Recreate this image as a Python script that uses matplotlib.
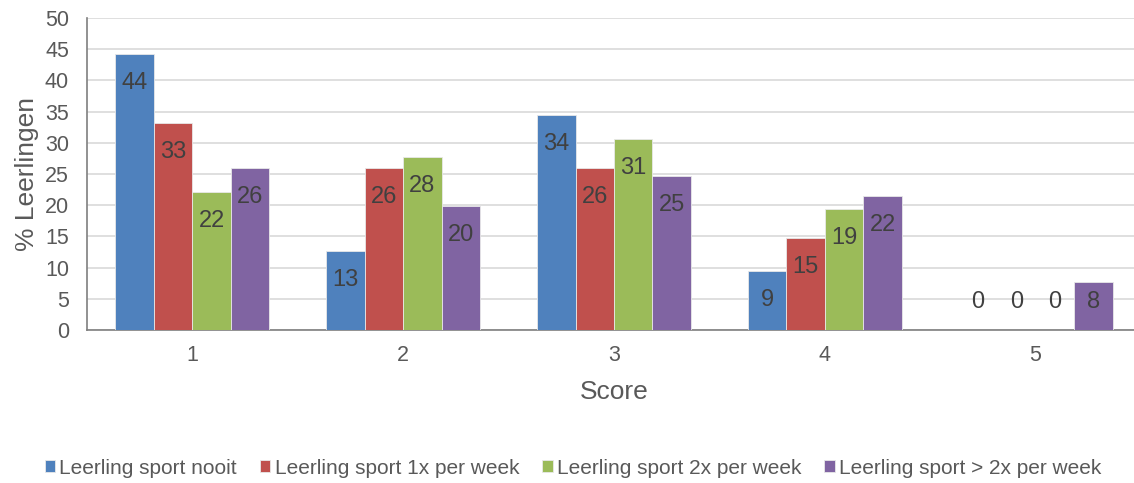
import matplotlib.pyplot as plt
import numpy as np

plt.rcParams["font.family"] = ["Liberation Sans", "DejaVu Sans"]

scores = ["1", "2", "3", "4", "5"]
series_names = [
    "Leerling sport nooit",
    "Leerling sport 1x per week",
    "Leerling sport 2x per week",
    "Leerling sport > 2x per week",
]
nooit = [44.2, 12.6, 34.5, 9.4, 0.0]
een_x = [33.2, 25.9, 25.9, 14.8, 0.0]
twee_x = [22.1, 27.8, 30.6, 19.4, 0.0]
meer_x = [26.0, 19.9, 24.7, 21.5, 7.7]

colors = ["#4F81BD", "#C0504D", "#9BBB59", "#8064A2"]
text_grey = "#404040"
tick_grey = "#595959"


def main() -> None:
    fig = plt.figure(figsize=(11.34, 4.83), dpi=100)
    # axes spans x 87..1141 px (right side runs off the canvas), y 18..330 px
    ax = fig.add_axes([87 / 1134, (483 - 330) / 483, 1054 / 1134, 312 / 483])

    x = np.arange(len(scores))
    width = 0.1825
    all_series = [nooit, een_x, twee_x, meer_x]
    for i, (vals, name, col) in enumerate(zip(all_series, series_names, colors)):
        pos = x + (i - 1.5) * width
        ax.bar(pos, vals, width, color=col, edgecolor="#E8E8E8",
               linewidth=0.6, label=name, zorder=3)
        for px, v in zip(pos, vals):
            ly = max(v - 4.65, 4.5)
            ax.text(px, ly, f"{v:.0f}", ha="center", va="center",
                    fontsize=17, color=text_grey, zorder=4)

    ax.set_xlim(-0.5, len(scores) - 0.5)
    ax.set_ylim(0, 50)
    ax.set_yticks(range(0, 51, 5))
    ax.set_xticks(x)
    ax.set_xticklabels(scores)
    ax.tick_params(axis="both", length=0, labelsize=15.5, colors=tick_grey)
    ax.tick_params(axis="y", pad=13)
    ax.tick_params(axis="x", pad=11)
    ax.grid(axis="y", color="#D9D9D9", linewidth=1.2, zorder=0)
    for side in ["top", "right"]:
        ax.spines[side].set_visible(False)
    for side in ["left", "bottom"]:
        ax.spines[side].set_color("#7F7F7F")
        ax.spines[side].set_linewidth(1.2)

    ax.set_xlabel("Score", fontsize=19, color=tick_grey, labelpad=10)
    ax.set_ylabel("% Leerlingen", fontsize=19, color=tick_grey, labelpad=4)

    handles, labels = ax.get_legend_handles_labels()
    fig.legend(handles, labels, loc="center", bbox_to_anchor=(573 / 1134, 1 - 468 / 483),
               ncol=4, frameon=False, fontsize=15, handlelength=0.5,
               handleheight=0.5, handletextpad=0.2, columnspacing=1.1,
               labelcolor=tick_grey)

    fig.savefig("out.png", dpi=100)


if __name__ == "__main__":
    main()
